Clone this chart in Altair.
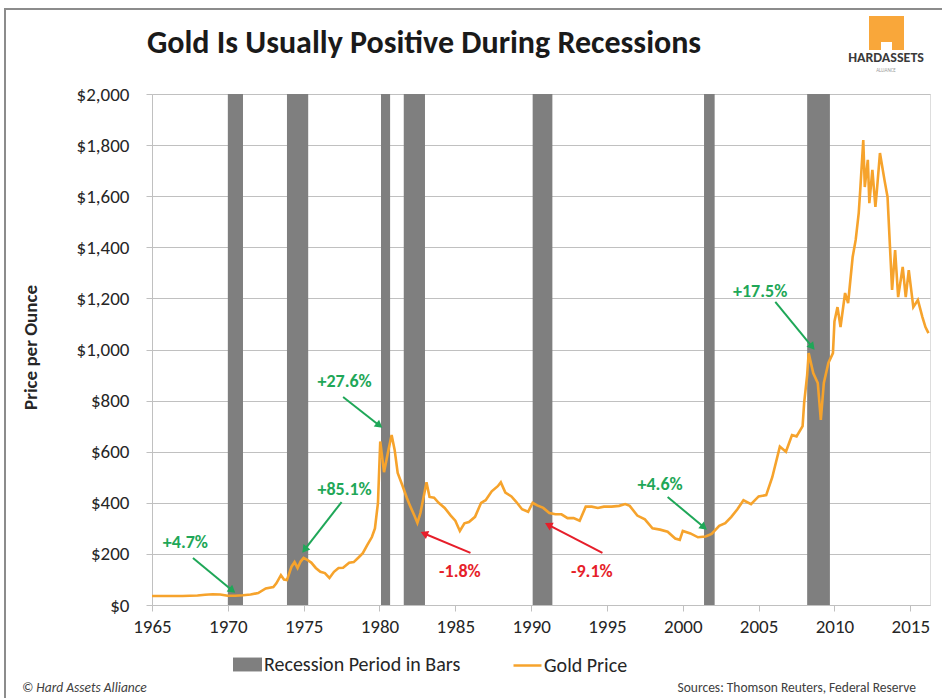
import math
import altair as alt
import pandas as pd

FONT = "Carlito, Calibri, Lato, sans-serif"

# ---------------- data ----------------
years = [1965.0, 1966.0, 1967.0, 1968.0, 1968.5, 1969.0, 1969.5, 1970.0, 1970.5, 1971.0,
         1971.5, 1972.0, 1972.5, 1973.0, 1973.2, 1973.5, 1973.7, 1973.9, 1974.2, 1974.4,
         1974.6, 1974.8, 1975.0, 1975.2, 1975.5, 1975.8, 1976.1, 1976.4, 1976.7, 1977.0,
         1977.3, 1977.6, 1978.0, 1978.3, 1978.6, 1978.9, 1979.2, 1979.5, 1979.7, 1979.9,
         1980.05, 1980.3, 1980.6, 1980.8, 1981.0, 1981.2, 1981.5, 1981.8, 1982.0, 1982.3,
         1982.5, 1982.7, 1982.9, 1983.1, 1983.3, 1983.6, 1983.9, 1984.3, 1984.7, 1985.0,
         1985.3, 1985.6, 1985.9, 1986.3, 1986.7, 1987.0, 1987.4, 1987.8, 1988.0, 1988.3,
         1988.7, 1989.0, 1989.4, 1989.8, 1990.1, 1990.4, 1990.8, 1991.2, 1991.6, 1992.0,
         1992.4, 1992.8, 1993.2, 1993.6, 1994.0, 1994.4, 1994.8, 1995.3, 1995.8, 1996.2,
         1996.5, 1997.0, 1997.5, 1998.0, 1998.5, 1999.0, 1999.5, 1999.8, 2000.0, 2000.5,
         2001.0, 2001.5, 2001.9, 2002.4, 2002.8, 2003.2, 2003.6, 2004.0, 2004.5, 2005.0,
         2005.5, 2005.9, 2006.4, 2006.8, 2007.2, 2007.5, 2007.9, 2008.0, 2008.2, 2008.3,
         2008.6, 2008.9, 2009.1, 2009.3, 2009.6, 2009.9, 2010.0, 2010.2, 2010.4, 2010.7,
         2010.9, 2011.2, 2011.4, 2011.6, 2011.7, 2011.9, 2012.0, 2012.2, 2012.3, 2012.5,
         2012.7, 2012.8, 2013.0, 2013.3, 2013.5, 2013.8, 2014.0, 2014.2, 2014.5, 2014.7,
         2014.9, 2015.2, 2015.5, 2015.8, 2016.0, 2016.2]
prices = [35, 35, 35, 37, 40, 42, 41, 36, 36, 38,
          41, 47, 65, 70, 85, 117, 100, 98, 150, 168,
          145, 170, 184, 178, 166, 145, 130, 125, 106, 130,
          145, 146, 165, 168, 185, 203, 235, 266, 300, 400,
          640, 520, 610, 665, 607, 517, 470, 420, 390, 350,
          321, 360, 420, 480, 423, 420, 400, 380, 350, 330,
          290, 320, 325, 345, 400, 410, 445, 465, 480, 440,
          425, 405, 375, 365, 400, 390, 380, 360, 355, 355,
          340, 340, 330, 385, 385, 380, 385, 385, 388, 395,
          388, 350, 335, 300, 295, 287, 260, 255, 290, 280,
          265, 268, 278, 310, 320, 345, 375, 410, 395, 425,
          430, 500, 620, 600, 665, 660, 700, 790, 900, 986,
          908, 869, 724, 869, 947, 986, 1110, 1166, 1088, 1221,
          1182, 1362, 1429, 1534, 1624, 1820, 1636, 1742, 1573, 1703,
          1558, 1624, 1769, 1663, 1597, 1233, 1389, 1205, 1323, 1205,
          1311, 1166, 1194, 1127, 1088, 1064]

rec_start = [1970.0, 1973.9, 1980.1, 1981.6, 1990.1, 2001.4, 2008.2]
rec_end = [1971.0, 1975.3, 1980.7, 1983.0, 1991.4, 2002.1, 2009.7]

ann_text = ["+4.7%", "+85.1%", "+27.6%", "-1.8%", "-9.1%", "+4.6%", "+17.5%"]
ann_kind = ["up", "up", "up", "down", "down", "up", "up"]
ann_tx = [1967.2, 1977.7, 1977.7, 1985.3, 1994.0, 1998.5, 2005.1]
ann_ty = [243, 450, 873, 129, 129, 470, 1225]
arr_x0 = [1967.7, 1977.5, 1977.6, 1986.0, 1994.7, 1999.0, 2006.1]
arr_y0 = [184, 403, 814, 204, 204, 423, 1186]
arr_x1 = [1970.5, 1974.9, 1980.2, 1982.7, 1990.9, 2001.6, 2008.7]
arr_y1 = [47, 204, 693, 286, 321, 294, 998]

y_ticks = list(range(0, 2001, 200))
x_ticks = list(range(1965, 2016, 5))

TITLE = "Gold Is Usually Positive During Recessions"

# ---------------- layout ----------------
W, H = 778, 511
X0, X1 = 1965, 2016.3
SX = W / (X1 - X0)
SY = H / 2000.0

GREEN = "#1FA758"
RED = "#E61E2A"
GOLD = "#F6A32C"
GRAY = "#7F7F7F"
GRID = "#C0C0C0"
TXT = "#262626"

gold = pd.DataFrame({"year": years, "price": prices, "series": "Gold Price"})
rec = pd.DataFrame({"start": rec_start, "end": rec_end, "series": "Recession Period in Bars"})

rows = []
for t, k, tx, ty, x0, y0, x1, y1 in zip(ann_text, ann_kind, ann_tx, ann_ty,
                                         arr_x0, arr_y0, arr_x1, arr_y1):
    dxp = (x1 - x0) * SX
    dyp = -(y1 - y0) * SY
    L = math.hypot(dxp, dyp)
    ux, uy = dxp / L, dyp / L
    back = 4.0
    cx = x1 - back * ux / SX
    cy = y1 + back * uy / SY
    ang = math.degrees(math.atan2(dxp, -dyp)) % 360
    rows.append(dict(text=t, kind=k, tx=tx, ty=ty, x0=x0, y0=y0,
                     hx=cx, hy=cy, angle=ang))
ann = pd.DataFrame(rows)

XS = alt.Scale(domain=[X0, X1], nice=False, zero=False)
YS = alt.Scale(domain=[0, 2000], nice=False)
XAX = alt.Axis(values=x_ticks, format="d", grid=False, tickSize=6, tickColor=GRID,
               domainColor=GRID, labelFontSize=19, labelPadding=6, labelColor=TXT,
               labelFont=FONT, labelFlush=False, labelOverlap=False, title=None)
YAX = alt.Axis(values=y_ticks, format="$,.0f", grid=True, gridColor=GRID, gridWidth=1,
               tickSize=6, tickColor=GRID, domainColor=GRID, labelFontSize=19,
               labelPadding=17, labelColor=TXT, labelFont=FONT,
               title="Price per Ounce", titleFont=FONT, titleFontSize=19,
               titleFontWeight="bold", titleColor=TXT, titleAngle=270,
               titleAlign="center", titleBaseline="middle", titleX=-122, titleY=253)
color_scale = alt.Scale(domain=["up", "down"], range=[GREEN, RED])

bars = alt.Chart(rec).mark_rect(color=GRAY).encode(
    x=alt.X("start:Q", scale=XS, axis=XAX),
    x2="end:Q",
    fill=alt.Fill("series:N",
                  scale=alt.Scale(domain=["Recession Period in Bars"], range=[GRAY]),
                  legend=alt.Legend(title=None, orient="none", legendX=81, legendY=556,
                                    symbolType="M-1,-0.48H1V0.48H-1Z", symbolSize=841,
                                    symbolStrokeWidth=0, labelFontSize=20, labelFont=FONT,
                                    labelColor=TXT, labelOffset=2, padding=0, labelLimit=0)),
)

line = alt.Chart(gold).mark_line(strokeWidth=2.6).encode(
    x=alt.X("year:Q", scale=XS, axis=XAX),
    y=alt.Y("price:Q", scale=YS, axis=YAX),
    stroke=alt.Stroke("series:N",
                      scale=alt.Scale(domain=["Gold Price"], range=[GOLD]),
                      legend=alt.Legend(title=None, orient="none", legendX=360, legendY=556,
                                        symbolType="stroke", symbolSize=784,
                                        symbolStrokeWidth=2.5, labelFontSize=20,
                                        labelFont=FONT, labelColor=TXT, labelOffset=1,
                                        padding=0, labelLimit=0)),
)

arrows = alt.Chart(ann).mark_rule(strokeWidth=2).encode(
    x=alt.X("x0:Q", scale=XS, axis=XAX),
    y=alt.Y("y0:Q", scale=YS, axis=YAX),
    x2="hx:Q",
    y2="hy:Q",
    color=alt.Color("kind:N", scale=color_scale, legend=None),
)

heads = alt.Chart(ann).mark_point(shape="triangle-up", filled=True, size=75, opacity=1).encode(
    x=alt.X("hx:Q", scale=XS, axis=XAX),
    y=alt.Y("hy:Q", scale=YS, axis=YAX),
    angle=alt.Angle("angle:Q", scale=None),
    color=alt.Color("kind:N", scale=color_scale, legend=None),
)

labels = alt.Chart(ann).mark_text(fontSize=18, fontWeight="bold", font=FONT).encode(
    x=alt.X("tx:Q", scale=XS, axis=XAX),
    y=alt.Y("ty:Q", scale=YS, axis=YAX),
    text="text:N",
    color=alt.Color("kind:N", scale=color_scale, legend=None),
)

one = pd.DataFrame({"a": [0]})

frame = alt.Chart(one).mark_rect(fill=None, stroke="#8C8C8C", strokeWidth=2).encode(
    x=alt.value(5 - 152), x2=alt.value(960 - 152),
    y=alt.value(9 - 94), y2=alt.value(720 - 94),
)

title = alt.Chart(pd.DataFrame({"t": [TITLE]})).mark_text(
    fontSize=32, fontWeight="bold", font=FONT, color="#1A1A1A", baseline="middle"
).encode(text="t:N", x=alt.value(424 - 152), y=alt.value(43 - 94))

logo_block = alt.Chart(one).mark_rect(color="#F9A73A").encode(
    x=alt.value(869 - 152), x2=alt.value(904 - 152),
    y=alt.value(16 - 94), y2=alt.value(50 - 94),
)
logo_notch = alt.Chart(one).mark_rect(color="white").encode(
    x=alt.value(881 - 152), x2=alt.value(892 - 152),
    y=alt.value(42 - 94), y2=alt.value(51 - 94),
)
logo_text = alt.Chart(pd.DataFrame({"t": ["HARDASSETS"]})).mark_text(
    fontSize=14, fontWeight="bold", font=FONT, color="#3A3A3A"
).encode(text="t:N", x=alt.value(886 - 152), y=alt.value(58 - 94))
logo_sub = alt.Chart(pd.DataFrame({"t": ["ALLIANCE"]})).mark_text(
    fontSize=5, font=FONT, color="#9A9A9A"
).encode(text="t:N", x=alt.value(886 - 152), y=alt.value(70 - 94))

foot_left = alt.Chart(pd.DataFrame({"t": ["© Hard Assets Alliance"]})).mark_text(
    fontSize=13.5, fontStyle="italic", font=FONT, color="#404040", align="left"
).encode(text="t:N", x=alt.value(22 - 152), y=alt.value(688 - 94))
foot_right = alt.Chart(pd.DataFrame({"t": ["Sources: Thomson Reuters, Federal Reserve"]})).mark_text(
    fontSize=13.5, font=FONT, color="#404040", align="right"
).encode(text="t:N", x=alt.value(916 - 152), y=alt.value(688 - 94))

chart = alt.layer(
    frame, bars, line, arrows, heads, labels, title,
    logo_block, logo_notch, logo_text, logo_sub, foot_left, foot_right,
).properties(
    width=W, height=H,
    autosize=alt.AutoSizeParams(type="none"),
    padding={"left": 152, "top": 94, "right": 12, "bottom": 93},
).resolve_scale(
    color="independent"
).configure_view(stroke=None).configure(background="white")

chart.save("out.html", embed_options={"renderer": "svg", "actions": False})
